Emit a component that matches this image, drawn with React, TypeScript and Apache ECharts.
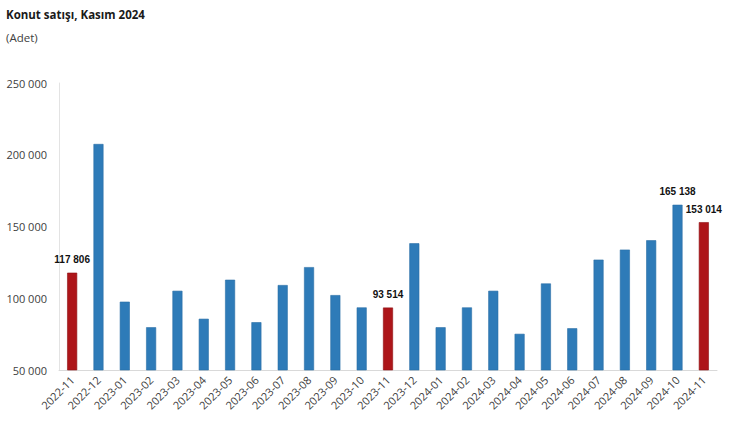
import React, { useEffect, useRef } from "react";
import * as echarts from "echarts";

const categories = [
  "2022-11", "2022-12", "2023-01", "2023-02", "2023-03", "2023-04", "2023-05",
  "2023-06", "2023-07", "2023-08", "2023-09", "2023-10", "2023-11", "2023-12",
  "2024-01", "2024-02", "2024-03", "2024-04", "2024-05", "2024-06", "2024-07",
  "2024-08", "2024-09", "2024-10", "2024-11",
];
const sales = [
  117806, 207500, 97600, 79800, 105200, 85700, 112900,
  83300, 109200, 121700, 102200, 93600, 93514, 138300,
  79800, 93600, 105200, 75200, 110300, 79100, 126900,
  133900, 140400, 165138, 153014,
];
const highlighted = ["2022-11", "2023-11", "2024-11"];
const labelled = ["2022-11", "2023-11", "2024-10", "2024-11"];
const yTicks = { min: 50000, max: 250000, interval: 50000 };

const fmt = (v: number) => String(Math.round(v)).replace(/\B(?=(\d{3})+(?!\d))/g, " ");

export default function App() {
  const ref = useRef<HTMLDivElement>(null);
  useEffect(() => {
    document.body.style.margin = "0";
    const chart = echarts.init(ref.current!, null, { renderer: "svg" });
    const data = sales.map((v, i) => {
      const c = categories[i];
      const red = highlighted.includes(c);
      return {
        value: v,
        itemStyle: {
          color: red ? "#ad1519" : "#2e7bb8",
          borderColor: red ? "#8f1014" : "#2a6fa6",
          borderWidth: 0.6,
        },
        label: { show: labelled.includes(c) },
      };
    });
    chart.setOption({
      animation: false,
      backgroundColor: "#ffffff",
      title: [
        {
          text: "Konut satışı, Kasım 2024",
          left: 6,
          top: 8,
          padding: 0,
          textStyle: { fontFamily: "Open Sans", fontWeight: "bold", fontSize: 11.5, color: "#1a1a1a" },
        },
        {
          text: "(Adet)",
          left: 6,
          top: 31,
          padding: 0,
          textStyle: { fontFamily: "Open Sans", fontWeight: "normal", fontSize: 11.5, color: "#404040" },
        },
      ],
      grid: { left: 59, right: 23, top: 83, bottom: 66, containLabel: false },
      xAxis: {
        type: "category",
        data: categories,
        axisLine: { lineStyle: { color: "#d9d9d9", width: 1 } },
        axisTick: { show: false },
        axisLabel: {
          rotate: 45,
          interval: 0,
          margin: 8,
          fontFamily: "Open Sans",
          fontSize: 11,
          color: "#404040",
        },
      },
      yAxis: {
        type: "value",
        min: yTicks.min,
        max: yTicks.max,
        interval: yTicks.interval,
        axisLine: { show: true, lineStyle: { color: "#e3e3e3", width: 1 } },
        axisTick: { show: false },
        splitLine: { show: false },
        axisLabel: {
          margin: 12,
          fontFamily: "Open Sans",
          fontSize: 11,
          color: "#404040",
          formatter: (v: number) => fmt(v),
        },
      },
      series: [
        {
          type: "bar",
          data,
          barWidth: 10,
          label: {
            position: "top",
            distance: 8,
            fontFamily: "Liberation Sans",
            fontWeight: "bold",
            fontSize: 10,
            color: "#111111",
            formatter: (p: any) => fmt(p.value),
          },
        },
      ],
    });
    return () => chart.dispose();
  }, []);
  return <div ref={ref} style={{ width: 740, height: 436 }} />;
}
